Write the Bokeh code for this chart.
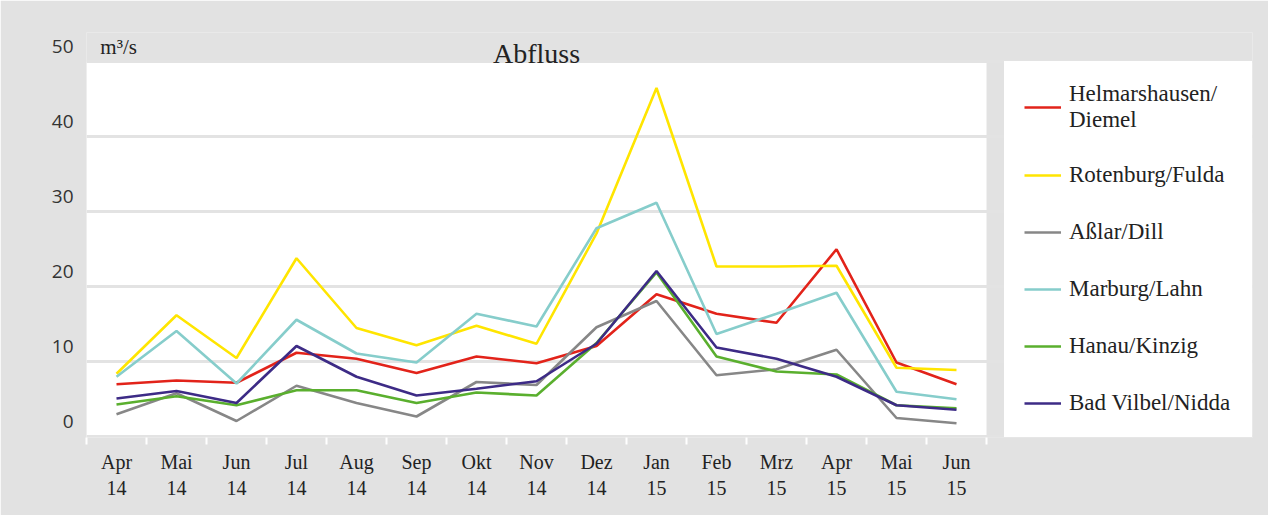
from bokeh.plotting import figure
from bokeh.models import (FixedTicker, LinearAxis, Range1d, Legend, LegendItem,
                          BoxAnnotation, Label)
from bokeh.embed import file_html
from bokeh.resources import INLINE

# ---- data ----
months = ["Apr\n14", "Mai\n14", "Jun\n14", "Jul\n14", "Aug\n14", "Sep\n14", "Okt\n14",
          "Nov\n14", "Dez\n14", "Jan\n15", "Feb\n15", "Mrz\n15", "Apr\n15", "Mai\n15", "Jun\n15"]

helmarshausen = [7.0, 7.5, 7.2, 11.2, 10.4, 8.5, 10.7, 9.8, 12.1, 19.0, 16.4, 15.2, 25.0, 9.9, 7.0]
rotenburg = [8.4, 16.2, 10.5, 23.8, 14.5, 12.2, 14.8, 12.4, 27.1, 46.5, 22.7, 22.7, 22.8, 9.2, 8.9]
asslar = [3.0, 5.8, 2.1, 6.8, 4.5, 2.7, 7.3, 6.9, 14.6, 18.1, 8.2, 9.0, 11.6, 2.5, 1.8]
marburg = [8.0, 14.1, 7.1, 15.6, 11.1, 9.9, 16.4, 14.7, 27.8, 31.2, 13.7, 16.4, 19.2, 6.0, 5.0]
hanau = [4.3, 5.4, 4.2, 6.2, 6.2, 4.5, 5.9, 5.5, 12.5, 21.9, 10.7, 8.7, 8.3, 4.2, 3.8]
bad_vilbel = [5.1, 6.1, 4.5, 12.1, 8.0, 5.5, 6.4, 7.4, 12.4, 22.1, 11.9, 10.4, 8.0, 4.2, 3.6]

series_names = ["Helmarshausen/\nDiemel", "Rotenburg/Fulda", "Aßlar/Dill",
                "Marburg/Lahn", "Hanau/Kinzig", "Bad Vilbel/Nidda"]
series_values = [helmarshausen, rotenburg, asslar, marburg, hanau, bad_vilbel]
series_colors = ["#e2231a", "#ffe500", "#878787", "#86cdcb", "#5aaf2e", "#3d2b86"]

y_ticks = [0, 10, 20, 30, 40, 50]

BG = "#e2e2e2"
SERIF = "Liberation Serif"

n = len(months)
x_idx = list(range(n))

# frame spans chart + legend column; chart itself occupies -0.5 .. n-0.5
p = figure(width=1268, height=515, output_backend="svg", toolbar_location=None,
           x_range=Range1d(-0.5, -0.5 + 1166 / 60), y_range=Range1d(-0.1, 53.9),
           min_border_left=86, min_border_right=16, min_border_top=32, min_border_bottom=78)
p.border_fill_color = BG
p.background_fill_color = BG
p.outline_line_color = None

# white plotting area
p.add_layout(BoxAnnotation(top=50, right=n - 0.5, fill_color="white", fill_alpha=1.0,
                           line_color=None, level="image"))

# grid
p.xgrid.visible = False
p.ygrid.ticker = FixedTicker(ticks=y_ticks)
p.ygrid.grid_line_color = "#e3e3e3"
p.ygrid.grid_line_width = 3

# default y axis hidden; label axis shifted upward
p.yaxis.visible = False
p.extra_y_ranges = {"lab": Range1d(-2.1, 51.9)}
yax = LinearAxis(y_range_name="lab", ticker=FixedTicker(ticks=y_ticks))
yax.axis_line_color = None
yax.major_tick_line_color = None
yax.minor_tick_line_color = None
yax.major_tick_out = 0
yax.major_label_standoff = 13
yax.major_label_text_font = "Open Sans"
yax.major_label_text_font_size = "19px"
yax.major_label_text_color = "#333333"
p.add_layout(yax, "left")

# x axis
xax = p.xaxis[0]
xax.ticker = FixedTicker(ticks=x_idx, minor_ticks=[i - 0.5 for i in range(n + 1)])
xax.major_label_overrides = {i: m for i, m in enumerate(months)}
xax.axis_line_color = None
xax.major_tick_line_color = None
xax.major_tick_out = 0
xax.major_tick_in = 0
xax.minor_tick_line_color = "white"
xax.minor_tick_line_width = 2
xax.minor_tick_out = 7
xax.minor_tick_in = 0
xax.major_label_standoff = 6
xax.major_label_text_font = SERIF
xax.major_label_text_font_size = "20px"
xax.major_label_text_color = "#222222"

# lines
items = []
for name, vals, col in zip(series_names, series_values, series_colors):
    r = p.line(x_idx, vals, line_color=col, line_width=2.6)
    items.append(LegendItem(label=name, renderers=[r]))

legend = Legend(items=items, location=(918, -1))
legend.background_fill_color = "white"
legend.background_fill_alpha = 1.0
legend.border_line_color = "white"
legend.border_line_width = 1
legend.padding = 19
legend.spacing = 27
legend.glyph_width = 37
legend.glyph_height = 30
legend.label_height = 30
legend.label_standoff = 8
legend.label_width = 167
legend.label_text_font = SERIF
legend.label_text_font_size = "23px"
legend.label_text_color = "#222222"
legend.margin = 0
p.add_layout(legend, "center")

# title and unit
p.add_layout(Label(x=(n - 1) / 2, y=51.1, text="Abfluss", text_align="center",
                   text_baseline="alphabetic", text_font=SERIF,
                   text_font_size="28px", text_color="#222222"))
p.add_layout(Label(x=-0.27, y=52.0, text="m³/s", text_align="left",
                   text_baseline="alphabetic", text_font=SERIF,
                   text_font_size="21px", text_color="#222222"))

open("out.html", "w").write(file_html(p, INLINE))
